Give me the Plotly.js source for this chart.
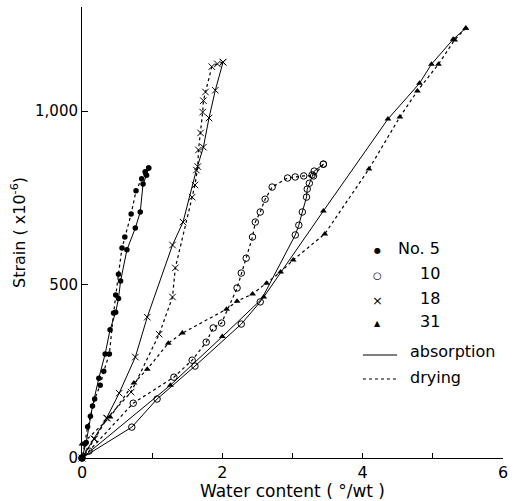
<!DOCTYPE html>
<html>
<head>
<meta charset="utf-8">
<script src="https://cdn.plot.ly/plotly-3.0.1.min.js"></script>
<style>html,body{margin:0;padding:0;background:#fff;}#chart{width:514px;height:501px;}</style>
</head>
<body>
<div id="chart"></div>
<script>
// ---- data (water content %/wt, strain x10^-6) ----
const no5AbsX = [0, 0.06, 0.15, 0.24, 0.33, 0.40, 0.48, 0.52, 0.55, 0.64, 0.76, 0.83, 0.87, 0.92, 0.95];
const no5AbsY = [0, 45, 150, 230, 300, 370, 420, 460, 510, 600, 663, 709, 790, 815, 836];
const no5DryX = [0.95, 0.90, 0.85, 0.77, 0.70, 0.61, 0.57, 0.52, 0.48, 0.45, 0.39, 0.31, 0.26, 0.18, 0.12, 0.08, 0.04, 0];
const no5DryY = [836, 825, 805, 770, 703, 637, 605, 530, 470, 418, 300, 250, 210, 170, 120, 90, 40, 0];

const no10AbsX = [0, 0.71, 1.07, 1.61, 2.27, 2.54, 3.04, 3.09, 3.14, 3.20, 3.21, 3.24, 3.28, 3.31, 3.44];
const no10AbsY = [0, 89, 170, 265, 386, 450, 643, 671, 709, 752, 775, 792, 816, 827, 847];
const no10DryX = [3.44, 3.30, 3.16, 3.04, 2.93, 2.71, 2.61, 2.54, 2.47, 2.43, 2.34, 2.27, 2.21, 1.99, 1.87, 1.77, 1.57, 1.31, 0.73, 0.10, 0];
const no10DryY = [847, 813, 813, 810, 807, 781, 746, 709, 680, 637, 576, 533, 490, 389, 375, 334, 282, 233, 158, 20, 0];

const no18AbsX = [0, 0.17, 0.35, 0.53, 0.76, 0.93, 1.29, 1.44, 1.63, 1.73, 1.81, 1.90, 2.01];
const no18AbsY = [0, 55, 115, 187, 291, 406, 614, 680, 830, 896, 980, 1060, 1141];
const no18DryX = [2.01, 1.93, 1.85, 1.76, 1.73, 1.72, 1.69, 1.66, 1.65, 1.61, 1.57, 1.33, 1.29, 1.10, 0.70, 0.36, 0.18, 0];
const no18DryY = [1141, 1136, 1128, 1055, 1030, 997, 937, 888, 840, 787, 752, 548, 464, 357, 190, 115, 55, 0];

const no31AbsX = [0, 1.26, 2.00, 2.59, 3.44, 4.36, 4.81, 4.98, 5.29, 5.47];
const no31AbsY = [0, 210, 350, 464, 712, 977, 1080, 1135, 1207, 1239];
const no31DryX = [5.47, 5.31, 5.08, 4.78, 4.53, 4.09, 3.46, 3.01, 2.83, 2.63, 2.43, 2.21, 2.06, 1.43, 1.23, 0.93, 0.74, 0.40, 0];
const no31DryY = [1239, 1205, 1135, 1058, 983, 833, 646, 571, 536, 504, 473, 452, 429, 360, 331, 256, 216, 118, 40];

const xTickVals = [0, 2, 4, 6];
const xTickText = ['0', '2', '4', '6'];
const yTickVals = [0, 500, 1000];
const yTickText = ['0', '500', '1,000'];

const seriesNames = ['No. 5', '10', '18', '31'];
const modeNames = ['absorption', 'drying'];

// ---- styling ----
const FONT = 'DejaVu Sans, sans-serif';
const markers = [
  {symbol: 'circle', size: 5.5, color: '#000'},
  {symbol: 'circle-open', size: 6.5, color: '#000', line: {width: 1, color: '#000'}},
  {symbol: 'x-thin-open', size: 6.5, color: '#000', line: {width: 1, color: '#000'}},
  {symbol: 'triangle-up', size: 6, color: '#000'}
];
const sets = [
  [no5AbsX, no5AbsY, no5DryX, no5DryY],
  [no10AbsX, no10AbsY, no10DryX, no10DryY],
  [no18AbsX, no18AbsY, no18DryX, no18DryY],
  [no31AbsX, no31AbsY, no31DryX, no31DryY]
];
const traces = [];
sets.forEach((s, i) => {
  traces.push({x: s[0], y: s[1], mode: 'lines+markers', name: seriesNames[i] + ' ' + modeNames[0],
    line: {color: '#000', width: 1, dash: 'solid'}, marker: markers[i], showlegend: false, cliponaxis: false});
  traces.push({x: s[2], y: s[3], mode: 'lines+markers', name: seriesNames[i] + ' ' + modeNames[1],
    line: {color: '#000', width: 1.2, dash: 'dot'}, marker: markers[i], showlegend: false, cliponaxis: false});
});

// legend built from annotations (plot area: x 82..503 px, y 7..458 px)
const PX = v => (v - 82) / 421;
const PY = v => (458 - v) / 451;
const symGlyphs = ['●', '○', '×', '▲'];
const symSizes = [8, 10, 13, 8];
const rowY = [248, 273, 298, 321];
const annotations = [];
seriesNames.forEach((n, i) => {
  annotations.push({xref: 'paper', yref: 'paper', x: PX(377), y: PY(rowY[i] + 2), text: symGlyphs[i],
    showarrow: false, font: {family: FONT, size: symSizes[i], color: '#000'}, xanchor: 'center', yanchor: 'middle'});
  annotations.push({xref: 'paper', yref: 'paper', x: PX(442), y: PY(rowY[i]), text: n,
    showarrow: false, font: {family: FONT, size: 16, color: '#000'}, xanchor: 'right', yanchor: 'middle'});
});
modeNames.forEach((n, i) => {
  annotations.push({xref: 'paper', yref: 'paper', x: PX(408), y: PY(i === 0 ? 352 : 377), text: n,
    showarrow: false, font: {family: FONT, size: 16, color: '#000'}, xanchor: 'left', yanchor: 'middle'});
});
const shapes = [
  {type: 'line', xref: 'paper', yref: 'paper', x0: PX(363), x1: PX(397), y0: PY(355), y1: PY(355), line: {color: '#000', width: 1}},
  {type: 'line', xref: 'paper', yref: 'paper', x0: PX(363), x1: PX(397), y0: PY(379), y1: PY(379), line: {color: '#000', width: 1.2, dash: 'dot'}}
];

const layout = {
  width: 514, height: 501,
  margin: {l: 82, r: 11, t: 7, b: 43, pad: 0},
  paper_bgcolor: '#fff', plot_bgcolor: '#fff',
  font: {family: FONT, color: '#000', size: 15},
  showlegend: false,
  xaxis: {
    range: [0, 6], showline: true, linecolor: '#000', linewidth: 1, mirror: false,
    showgrid: false, zeroline: false, ticks: 'inside', ticklen: 5, tickcolor: '#000',
    tickmode: 'array', tickvals: xTickVals, ticktext: xTickText,
    minor: {ticks: 'inside', ticklen: 5, tickcolor: '#000', dtick: 1, tick0: 0, showgrid: false},
    tickfont: {family: FONT, size: 16}, fixedrange: true,
    title: {text: 'Water content ( °/wt )', font: {family: FONT, size: 17}, standoff: 2}
  },
  yaxis: {
    range: [0, 1300], showline: true, linecolor: '#000', linewidth: 1, mirror: false,
    showgrid: false, zeroline: false, ticks: 'inside', ticklen: 6, tickcolor: '#000',
    tickmode: 'array', tickvals: yTickVals, ticktext: yTickText,
    tickfont: {family: FONT, size: 15}, fixedrange: true,
    title: {text: 'Strain ( x10<sup>-6</sup>)', font: {family: FONT, size: 16}, standoff: 5}
  },
  annotations: annotations,
  shapes: shapes
};

Plotly.newPlot('chart', traces, layout, {displayModeBar: false, staticPlot: true});
</script>
</body>
</html>
